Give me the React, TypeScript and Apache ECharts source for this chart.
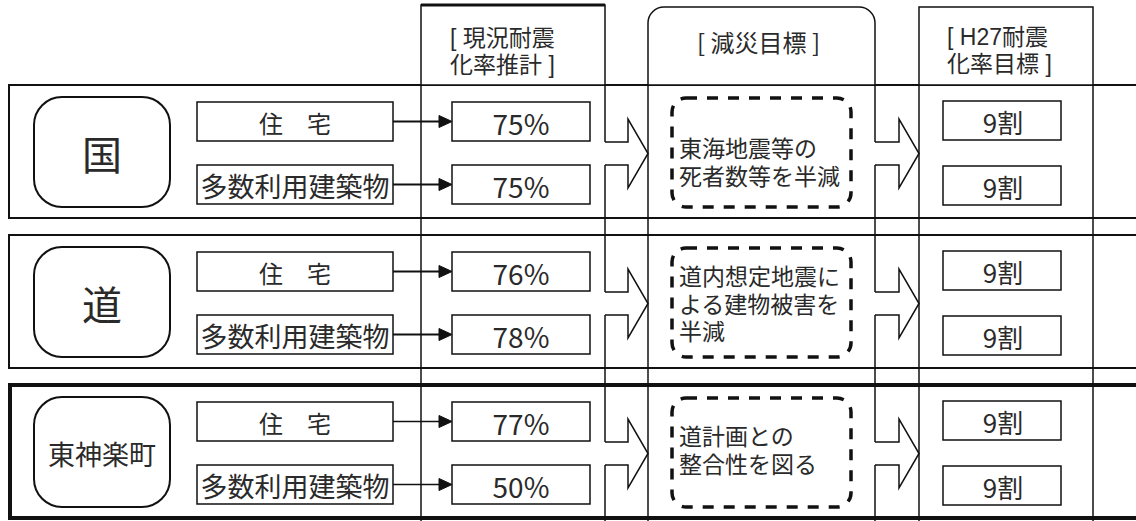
import React, { useEffect, useRef } from "react";
import * as echarts from "echarts";

// ---- data ----
const regions = ["国", "道", "東神楽町"];
const buildingTypes = ["住　宅", "多数利用建築物"];
const currentHousing = [75, 76, 77];
const currentMultiUse = [75, 78, 50];
const targetHousing = ["9割", "9割", "9割"];
const targetMultiUse = ["9割", "9割", "9割"];
const goalLines = [
  ["東海地震等の", "死者数等を半減"],
  ["道内想定地震に", "よる建物被害を", "半減"],
  ["道計画との", "整合性を図る"],
];
const headerCurrent = ["[ 現況耐震", "化率推計 ]"];
const headerGoal = ["[ 減災目標 ]"];
const headerTarget = ["[ H27耐震", "化率目標 ]"];

// ---- layout ----
const FONT = '"Noto Sans CJK JP", "Noto Sans CJK SC", sans-serif';
const FONT_TIGHT = '"Liberation Sans", "Noto Sans CJK JP", sans-serif';
const INK = "#111";
const TXT = "#2a2a2a";
const ROW_TOP0 = 85;
const ROW_STEP = 150;
const ROW_H = 133;
const COL = { curL: 421, curR: 605, goalL: 648, goalR: 875, tgtL: 919, tgtR: 1093 };
const GOAL_TEXT_START = [64, 42, 52];
const GOAL_LINE_H = 27.5;

function buildElements() {
  const els: any[] = [];
  const line = (x1: number, y1: number, x2: number, y2: number, lw = 1.5) =>
    els.push({ type: "line", silent: true, shape: { x1, y1, x2, y2 }, style: { stroke: INK, lineWidth: lw } });
  const rect = (x: number, y: number, w: number, h: number, opts: any = {}) =>
    els.push({
      type: "rect",
      silent: true,
      shape: { x, y, width: w, height: h, r: opts.r || 0 },
      style: { fill: opts.fill || "none", stroke: INK, lineWidth: opts.lw || 1.5, lineDash: opts.dash },
    });
  const text = (
    t: string,
    x: number,
    y: number,
    size: number,
    align = "center",
    vAlign = "middle",
    lh?: number,
    family = FONT
  ) =>
    els.push({
      type: "text",
      silent: true,
      x,
      y,
      style: {
        text: t,
        fontSize: size,
        fontFamily: family,
        fill: TXT,
        align,
        verticalAlign: vAlign,
        lineHeight: lh || Math.round(size * 1.2),
      },
    });

  const rowTop = regions.map((_, i) => ROW_TOP0 + ROW_STEP * i);

  // row frames
  regions.forEach((_, i) => {
    const T = rowTop[i];
    const thick = i === regions.length - 1;
    rect(thick ? 10 : 9, T, 1160, ROW_H, { lw: thick ? 4 : 2 });
  });

  // headers
  rect(COL.curL, 5, COL.curR - COL.curL, ROW_TOP0 - 5, { fill: "#fff" });
  line(COL.curL, 5, COL.curR, 5, 3);
  rect(COL.goalL, 7, COL.goalR - COL.goalL, ROW_TOP0 - 7, { fill: "#fff", r: [16, 16, 0, 0] });
  rect(COL.tgtL, 7, COL.tgtR - COL.tgtL, ROW_TOP0 - 7, { fill: "#fff" });
  text(headerCurrent.join("\n"), 450, 38 - 13.5, 23, "left", "top", 27, FONT_TIGHT);
  text(headerGoal.join("\n"), (COL.goalL + COL.goalR) / 2 - 3, 41, 24);
  text(headerTarget.join("\n"), 947, 37 - 13.5, 23, "left", "top", 27, FONT_TIGHT);

  // continuous vertical lines
  [COL.curL, COL.goalL, COL.tgtL, COL.tgtR].forEach((x) => line(x, ROW_TOP0, x, 521));
  // vertical lines interrupted by block-arrow shafts
  [COL.curR, COL.goalR].forEach((x) => {
    let y0 = ROW_TOP0;
    rowTop.forEach((T) => {
      line(x, y0, x, T + 57);
      y0 = T + 80;
    });
    line(x, y0, x, 521);
  });

  regions.forEach((name, i) => {
    const T = rowTop[i];
    // region label
    rect(34, T + 12, 136, 110, { r: 28, lw: 2, fill: "#fff" });
    text(name, 102, T + 68, name.length === 1 ? 40 : 27);

    const rowsY = [T + 17, T + 80];
    const cur = [currentHousing[i], currentMultiUse[i]];
    const tgt = [targetHousing[i], targetMultiUse[i]];
    buildingTypes.forEach((b, k) => {
      const y = rowsY[k];
      const cy = y + 19.5;
      rect(197, y, 196, 39, { fill: "#fff" });
      text(b, 295, cy + 1, k === 0 ? 24 : 27);
      // small arrow
      line(393, cy, 441, cy, i === regions.length - 1 ? 1.5 : 2);
      els.push({
        type: "polygon",
        silent: true,
        shape: { points: [[439, cy - 6], [452, cy], [439, cy + 6]] },
        style: { fill: INK, stroke: INK, lineWidth: 1 },
      });
      rect(452, y, 138, 39, { fill: "#fff" });
      text(cur[k] + "%", 521, cy + 1, 28);
      rect(943, y + (k === 0 ? -1 : 1), 118, 39, { fill: "#fff" });
      text(tgt[k], 1003, cy + (k === 0 ? 0 : 2), 26);
    });

    // block arrows
    [
      [COL.curR, 628, COL.goalL],
      [COL.goalR, 899, COL.tgtL],
    ].forEach(([x0, x1, x2]) => {
      els.push({
        type: "polyline",
        silent: true,
        shape: {
          points: [
            [x0, T + 57],
            [x1, T + 57],
            [x1, T + 34],
            [x2, T + 68.5],
            [x1, T + 103],
            [x1, T + 80],
            [x0, T + 80],
          ],
        },
        style: { fill: "none", stroke: INK, lineWidth: 1.5 },
      });
    });

    // dashed goal box
    rect(672, T + 13, 179, 109, { r: 14, lw: 3.5, dash: [11, 10] });
    text(
      goalLines[i].join("\n"),
      679,
      T + GOAL_TEXT_START[i] - GOAL_LINE_H / 2,
      23,
      "left",
      "top",
      GOAL_LINE_H,
      FONT_TIGHT
    );
  });

  return els;
}

export default function App() {
  const ref = useRef<HTMLDivElement>(null);
  useEffect(() => {
    if (!ref.current) return;
    const chart = echarts.init(ref.current, null, { renderer: "svg" });
    chart.setOption({
      animation: false,
      backgroundColor: "#fff",
      graphic: { elements: buildElements() },
    });
    return () => chart.dispose();
  }, []);
  return (
    <div
      ref={ref}
      style={{ position: "absolute", left: 0, top: 0, width: 1136, height: 521, background: "#fff" }}
    />
  );
}
